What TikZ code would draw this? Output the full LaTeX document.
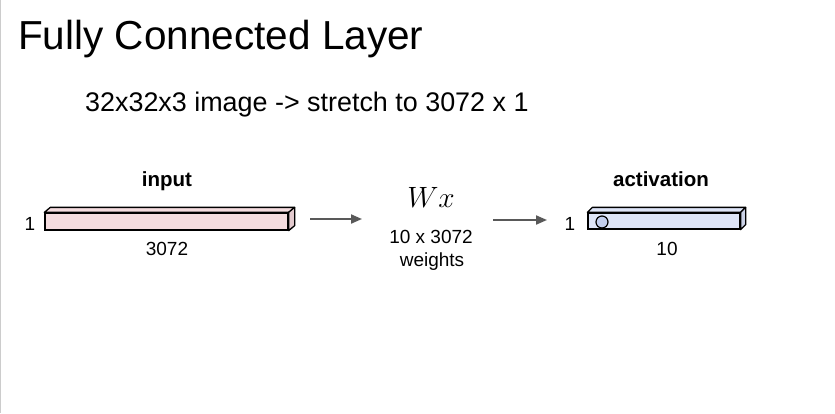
\documentclass[tikz,border=0pt]{standalone}
\usepackage{fontspec}
\setmainfont{Liberation Sans}
\usetikzlibrary{arrows.meta}

\definecolor{inpink}{HTML}{F4DCDF}
\definecolor{inpinkside}{HTML}{E3CACE}
\definecolor{actblue}{HTML}{DDE4F7}
\definecolor{actblueside}{HTML}{CAD1E6}
\definecolor{dotblue}{HTML}{C3CFEF}
\definecolor{arrowgray}{HTML}{595959}

\begin{document}
\begin{tikzpicture}[x=1pt,y=-1pt,
  lbl/.style={font=\fontsize{19}{22}\selectfont,anchor=base,inner sep=0pt},
  head/.style={font=\fontsize{20.5}{24}\selectfont\bfseries,anchor=base,inner sep=0pt},
  bar/.style={draw=black,line width=1.3pt,inner sep=0pt,minimum height=17pt},
  face/.style={draw=black,line width=1.3pt,line join=round},
  flow/.style={draw=arrowgray,line width=2pt,-{Triangle[length=11pt,width=9pt]}}]

    \useasboundingbox[fill=white] (0,0) rectangle (835,413);
    \draw[gray!40,line width=1pt] (0.5,0) -- (0.5,413);

    % titles
    \node[anchor=base west,inner sep=0pt,font=\fontsize{40.5}{46}\selectfont] (title) at (18,49) {Fully Connected Layer};
    \node[anchor=base west,inner sep=0pt,font=\fontsize{26.9}{31}\selectfont] (sub) at (85,111.5) {32x32x3 image -> stretch to 3072 x 1};

    % input bar
    \node[bar,fill=inpink,minimum width=243pt] (inbar) at (166.5,221.5) {};
    \filldraw[face,fill=inpink] (inbar.north west) -- ++(6,-5) -- ([shift={(6,-5)}]inbar.north east) -- (inbar.north east) -- cycle;
    \filldraw[face,fill=inpinkside] (inbar.north east) -- ++(6,-5) -- ([shift={(6,-5)}]inbar.south east) -- (inbar.south east) -- cycle;
    \node[head] (inlbl) at (167,186) {input};
    \node[lbl] (inone) at (30,230) {1};
    \node[lbl] (inlen) at (167,255.5) {3072};

    % weights
    \node[anchor=base,inner sep=0pt,scale=1.18] (wx) at (431,207) {\fontsize{24.88}{30}\selectfont$Wx$};
    \node[lbl] (wsize) at (431,243.5) {10 x 3072};
    \node[lbl] (wname) at (432,266) {weights};

    % activation bar
    \node[bar,fill=actblue,minimum width=152pt,minimum height=16pt] (actbar) at (664,221) {};
    \filldraw[face,fill=actblue] (actbar.north west) -- ++(5,-5) -- ([shift={(5,-5)}]actbar.north east) -- (actbar.north east) -- cycle;
    \filldraw[face,fill=actblueside] (actbar.north east) -- ++(5,-5) -- ([shift={(5,-5)}]actbar.south east) -- (actbar.south east) -- cycle;
    \node[circle,draw=black,line width=1.2pt,fill=dotblue,minimum size=12pt,inner sep=0pt] (dot) at (602,222) {};
    \node[head] (actlbl) at (661,186) {activation};
    \node[lbl] (actone) at (570,230) {1};
    \node[lbl] (actlen) at (667,255) {10};

    % arrows
    \coordinate (a1s) at (310,219);
    \coordinate (a1e) at (362,219);
    \coordinate (a2s) at (493,220);
    \coordinate (a2e) at (547,220);
    \draw[flow] (a1s) -- (a1e);
    \draw[flow] (a2s) -- (a2e);
\end{tikzpicture}
\end{document}
